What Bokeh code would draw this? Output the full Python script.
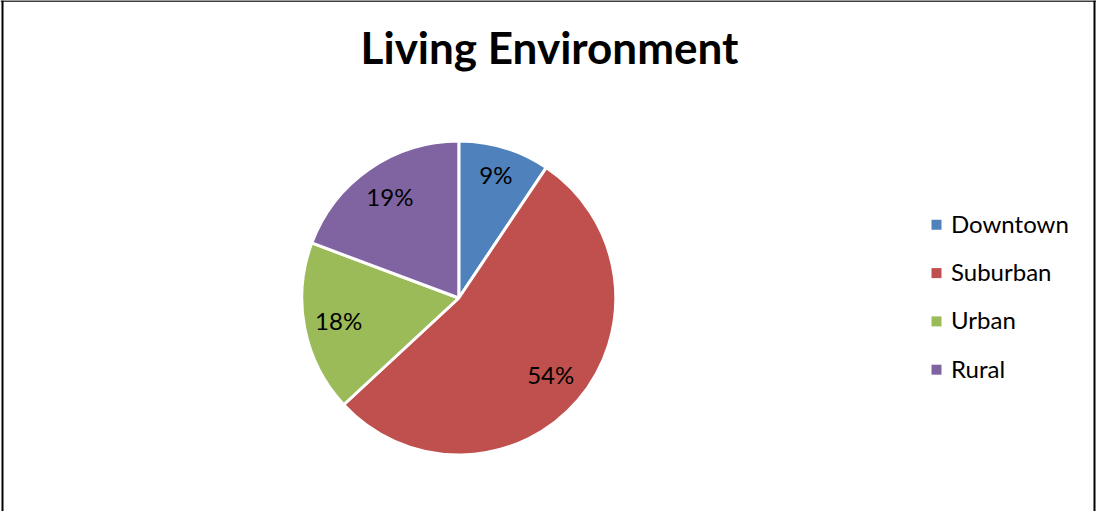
import math
from bokeh.plotting import figure
from bokeh.models import Range1d, ColumnDataSource, Span
from bokeh.core.properties import value
from bokeh.embed import file_html
from bokeh.resources import INLINE

# ---- data ----
categories = ["Downtown", "Suburban", "Urban", "Rural"]
shares = [9.4, 53.7, 17.6, 19.3]
colors = ["#4F81BD", "#C0504D", "#9BBB59", "#8064A2"]
title_text = "Living Environment"

W, H = 1096, 511
FONT = "Lato"
BASE_FIX = 0.43  # empirical baseline correction (fraction of font size)

p = figure(width=W, height=H, output_backend="svg", toolbar_location=None,
           x_range=Range1d(0, W), y_range=Range1d(0, H),
           x_axis_type=None, y_axis_type=None, min_border=0,
           outline_line_color=None, background_fill_color="white",
           border_fill_color="white")
p.grid.visible = False

# border (left, top, right)
p.add_layout(Span(location=2.0, dimension="height", line_color="black", line_width=2))
p.add_layout(Span(location=1094.0, dimension="height", line_color="black", line_width=2))
p.add_layout(Span(location=H - 0.5, dimension="width", line_color="black", line_width=1.5))

# pie
cx, cy, r = 458.3, 213.5, 157
total = sum(shares)
starts, ends, mids = [], [], []
cum = 0.0
for s in shares:
    a0 = math.pi / 2 - cum / total * 2 * math.pi
    cum += s
    a1 = math.pi / 2 - cum / total * 2 * math.pi
    starts.append(a0)
    ends.append(a1)
    mids.append((a0 + a1) / 2)

src = ColumnDataSource(dict(x=[cx] * 4, y=[cy] * 4, start=starts, end=ends,
                            color=colors, cat=categories))
p.wedge(x="x", y="y", radius=r, start_angle="start", end_angle="end",
        direction="clock", fill_color="color", line_color="white",
        line_width=3, source=src)

# percent labels
fs = 24
cap = 0.36 * fs
lab_r = [0.81, 0.77, 0.78, 0.77]
lx = [cx + lr * r * math.cos(m) for lr, m in zip(lab_r, mids)]
ly = [cy + lr * r * math.sin(m) - cap + BASE_FIX * fs for lr, m in zip(lab_r, mids)]
labels = [f"{round(s / total * 100)}%" for s in shares]
p.text(x=lx, y=ly, text=labels, text_align="center", text_baseline="alphabetic",
       text_font=value(FONT), text_font_size=f"{fs}px", text_color="black")

# legend
leg_x, leg_y0, leg_dy = 936, 511 - 224.3, 48.3
lys = [leg_y0 - i * leg_dy for i in range(len(categories))]
p.scatter(x=[leg_x] * 4, y=lys, marker="square", size=10, fill_color=colors,
          line_color=None)
p.text(x=[950.5] * 4, y=[v - cap + BASE_FIX * fs for v in lys], text=categories,
       text_align="left", text_baseline="alphabetic", text_font=value(FONT),
       text_font_size=f"{fs}px", text_color="black")

# title
tfs = 44
p.text(x=[549], y=[511 - 65 + BASE_FIX * tfs], text=[title_text], text_align="center",
       text_baseline="alphabetic", text_font=value(FONT), text_font_size=f"{tfs}px",
       text_font_style="bold", text_color="black")

open("out.html", "w").write(file_html(p, INLINE))
